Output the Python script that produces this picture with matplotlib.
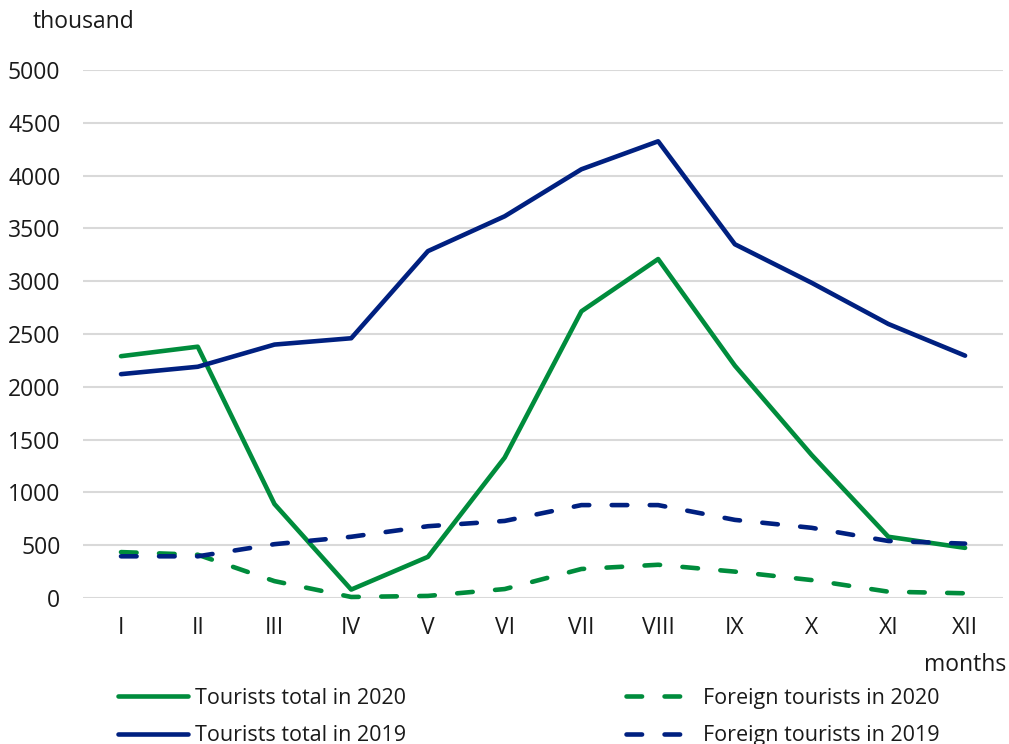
import numpy as np
import matplotlib.pyplot as plt

months = ["I", "II", "III", "IV", "V", "VI", "VII", "VIII", "IX", "X", "XI", "XII"]
total_2020 = [2290, 2380, 890, 80, 390, 1330, 2715, 3210, 2200, 1355, 580, 475]
total_2019 = [2120, 2190, 2400, 2460, 3285, 3615, 4060, 4325, 3350, 2985, 2595, 2295]
foreign_2020 = [435, 410, 160, 10, 20, 85, 275, 315, 250, 170, 60, 45]
foreign_2019 = [395, 395, 510, 580, 680, 730, 880, 880, 740, 665, 540, 515]

green = "#008C3C"
navy = "#002080"
fs = 16.5
leg_fs = 15.5

plt.rcParams['font.family'] = ['Open Sans', 'DejaVu Sans']

fig = plt.figure(figsize=(10.09, 7.44), dpi=100)
ax = fig.add_axes([0.0819, 0.1962, 0.9126, 0.7097])

x = np.arange(len(months))
lw = 3.3
dash = (3.4, 4.9)
ax.plot(x, total_2020, color=green, lw=lw, label="Tourists total in 2020",
        solid_capstyle='round', clip_on=False)
ax.plot(x, total_2019, color=navy, lw=lw, label="Tourists total in 2019",
        solid_capstyle='round', clip_on=False)
ax.plot(x, foreign_2020, color=green, lw=lw, dashes=dash, dash_capstyle='round',
        label="Foreign tourists in 2020", clip_on=False)
ax.plot(x, foreign_2019, color=navy, lw=lw, dashes=dash, dash_capstyle='round',
        label="Foreign tourists in 2019", clip_on=False)

ax.set_xlim(-0.5, 11.5)
ax.set_ylim(0, 5000)
ax.set_yticks(np.arange(0, 5001, 500))
ax.set_xticks(x)
ax.set_xticklabels(months)
ax.tick_params(length=0, labelsize=fs, colors="#1a1a1a")
ax.tick_params(axis='y', pad=16)
ax.tick_params(axis='x', pad=13)
ax.grid(axis='y', color="#d9d9d9", lw=1.5)
ax.set_axisbelow(True)
for s in ax.spines.values():
    s.set_visible(False)

fig.text(33 / 1009, 1 - 22 / 744, "thousand", fontsize=fs, va='center', ha='left', color="#1a1a1a")
fig.text(1006 / 1009, 1 - 665 / 744, "months", fontsize=fs, va='center', ha='right', color="#1a1a1a")

fig.legend(loc='center left', bbox_to_anchor=(118 / 1009, 1 - 717 / 744), ncol=2,
           frameon=False, fontsize=leg_fs, handlelength=3.25, handletextpad=0.33,
           columnspacing=10.2, labelspacing=0.77, borderaxespad=0, borderpad=0,
           labelcolor="#1a1a1a")

fig.savefig("out.png", dpi=100)
